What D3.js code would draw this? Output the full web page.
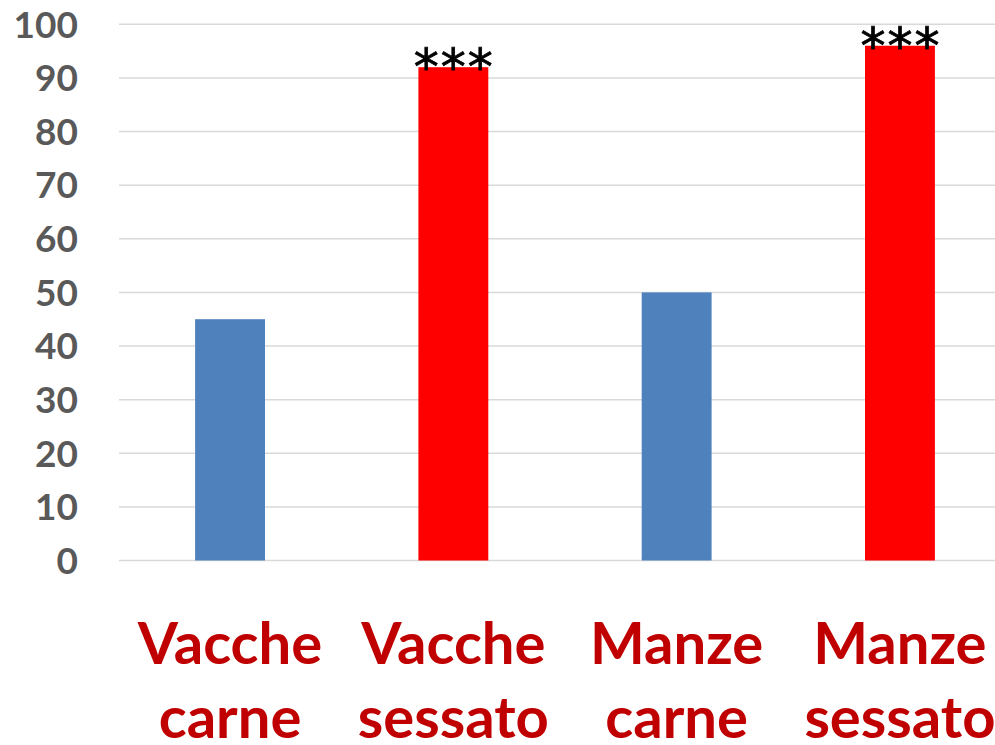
<!DOCTYPE html>
<html lang="it">
<head>
    <meta charset="UTF-8">
    <title>Vacche / Manze</title>
    <style>
        body, html {
            margin: 0;
            padding: 0;
            width: 100%;
            height: 100%;
            overflow: hidden;
            background: #fff;
        }
        #chart {
            display: block;
        }
        .tick-label {
            font-family: Lato, "Open Sans", sans-serif;
            font-weight: bold;
            font-size: 37px;
            fill: #595959;
        }
        .cat-label {
            font-family: Lato, "Open Sans", sans-serif;
            font-weight: bold;
            font-size: 58px;
            fill: #C00000;
        }
        .stars {
            font-family: "DejaVu Sans", sans-serif;
            font-size: 50px;
            stroke: #000;
            stroke-width: 0.8px;
            fill: #000;
        }
    </style>
</head>
<body>
    <svg id="chart"></svg>

    <script src="https://cdnjs.cloudflare.com/ajax/libs/d3/7.8.5/d3.min.js"></script>
    <script>
        const width = 995;
        const height = 745;

        // data
        const categories = ["Vacche carne", "Vacche sessato", "Manze carne", "Manze sessato"];
        const labelLines = [["Vacche", "carne"], ["Vacche", "sessato"], ["Manze", "carne"], ["Manze", "sessato"]];
        const values = [45, 92, 50, 96];
        const barColors = ["#4F81BD", "#FF0000", "#4F81BD", "#FF0000"];
        const stars = ["", "***", "", "***"];
        const yTicks = [0, 10, 20, 30, 40, 50, 60, 70, 80, 90, 100];

        const svg = d3.select("#chart")
            .attr("width", width)
            .attr("height", height);

        const x = d3.scaleBand()
            .domain(categories)
            .range([118.4, 1011.6])
            .paddingInner(0.687)
            .paddingOuter(0.687 / 2);

        const y = d3.scaleLinear()
            .domain([0, 100])
            .range([560.5, 24.3]);

        // gridlines
        svg.append("g")
            .selectAll("line")
            .data(yTicks)
            .enter()
            .append("line")
            .attr("x1", 119)
            .attr("x2", width)
            .attr("y1", d => y(d))
            .attr("y2", d => y(d))
            .attr("stroke", "#d9d9d9")
            .attr("stroke-width", 1.5);

        // y tick labels
        svg.append("g")
            .selectAll("text")
            .data(yTicks)
            .enter()
            .append("text")
            .attr("class", "tick-label")
            .attr("x", 78)
            .attr("y", d => y(d))
            .attr("dy", "0.36em")
            .attr("text-anchor", "end")
            .text(d => d);

        // bars
        svg.append("g")
            .selectAll("rect")
            .data(values)
            .enter()
            .append("rect")
            .attr("x", (d, i) => x(categories[i]))
            .attr("width", x.bandwidth())
            .attr("y", d => y(d))
            .attr("height", d => y(0) - y(d))
            .attr("fill", (d, i) => barColors[i]);

        // significance stars
        svg.append("g")
            .selectAll("text")
            .data(values)
            .enter()
            .append("text")
            .attr("class", "stars")
            .attr("x", (d, i) => x(categories[i]) + x.bandwidth() / 2 + 1)
            .attr("y", d => y(d) + 17)
            .attr("text-anchor", "middle")
            .attr("letter-spacing", 2)
            .text((d, i) => stars[i]);

        // category labels (two lines)
        const cats = svg.append("g")
            .selectAll("text")
            .data(labelLines)
            .enter()
            .append("text")
            .attr("class", "cat-label")
            .attr("text-anchor", "middle")
            .attr("x", (d, i) => x(categories[i]) + x.bandwidth() / 2);

        cats.selectAll("tspan")
            .data(d => d)
            .enter()
            .append("tspan")
            .attr("x", function() { return d3.select(this.parentNode).attr("x"); })
            .attr("y", (d, j) => 664 + j * 74)
            .text(d => d);
    </script>
</body>
</html>
